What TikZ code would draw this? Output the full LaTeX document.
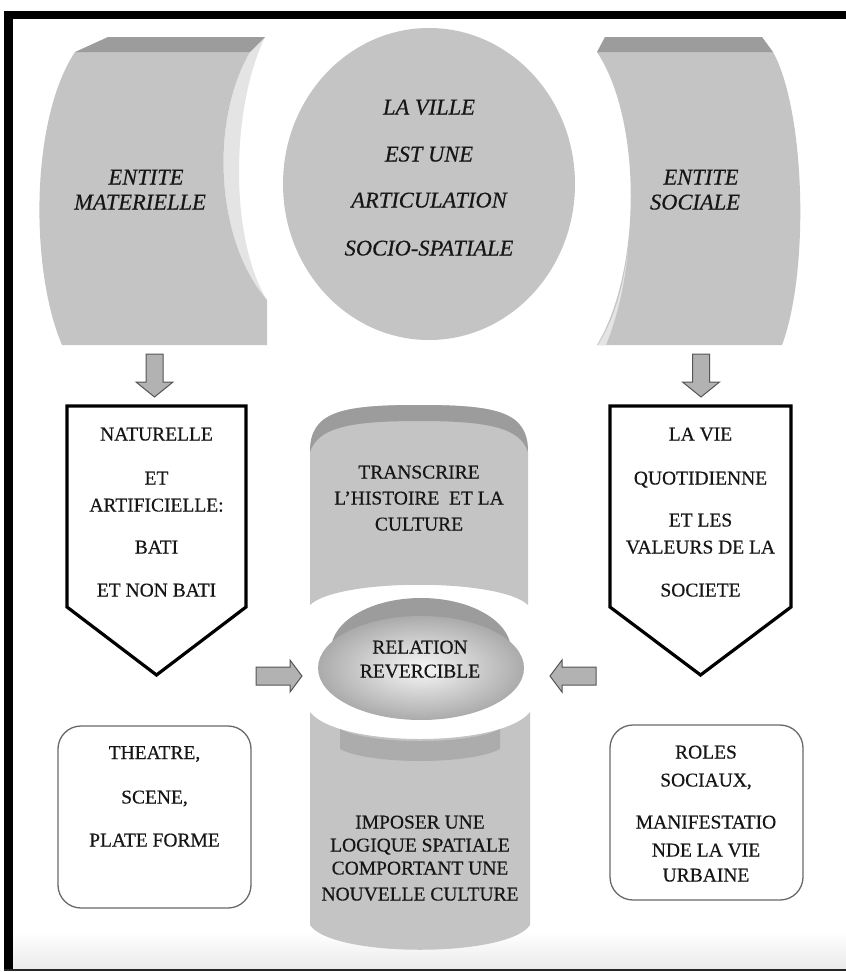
\documentclass[tikz,border=0pt]{standalone}
\usepackage{fontspec}
\setmainfont{Liberation Serif}[FakeBold=0.35]
\usetikzlibrary{shapes.geometric}
\definecolor{facegray}{RGB}{196,196,196}
\definecolor{topgray}{RGB}{156,156,156}
\definecolor{sidegray}{RGB}{228,228,228}
\definecolor{bandgray}{RGB}{172,172,172}
\definecolor{arrowfill}{RGB}{178,178,178}
\definecolor{arrowline}{RGB}{85,85,85}
\definecolor{boxline}{RGB}{105,105,105}
\definecolor{txt}{RGB}{22,22,22}
\begin{document}
\begin{tikzpicture}[x=1pt,y=-1pt,
  ttl/.style={font=\fontsize{22.5}{26}\selectfont\itshape, text=txt, inner sep=0pt, anchor=base},
  lbl/.style={font=\fontsize{19.5}{22}\selectfont, text=txt, inner sep=0pt, anchor=base},
  pent/.style={draw=black, line width=3.2pt, fill=white, line join=miter},
  blockarrow/.style={fill=arrowfill, draw=arrowline, line width=1pt, line join=miter},
  roundbox/.style={draw=boxline, line width=1.3pt, rounded corners=23pt, fill=white, inner sep=0pt}]
\useasboundingbox (0,0) rectangle (846,972);
\fill[white] (0,0) rectangle (846,972);
% bottom light band and frame
\shade[top color=white, bottom color=black!8] (12,932) rectangle (846,969);
\fill[black] (4,11) rectangle (846,18.5);
\fill[black] (4,11) rectangle (12.5,971);
\draw[line width=2.2pt, black!85] (4,970) -- (846,970);

% ---------- left curved panel ----------
\fill[sidegray] (265,37) .. controls (230,110) and (230,240) .. (267,300)
  .. controls (215,240) and (210,120) .. (250,52) -- cycle;
\fill[facegray] (75,52) .. controls (30,120) and (30,270) .. (62,345) -- (267,345) -- (267,300)
  .. controls (215,240) and (210,120) .. (250,52) -- cycle;
\fill[topgray] (108,37) -- (265,37) -- (250,52) -- (75,52) -- cycle;
\node[ttl] (ent1) at (146,184.5) {ENTITE};
\node[ttl] (mat1) at (140,209.5) {MATERIELLE};

% ---------- right curved panel ----------
\fill[facegray] (597,52) .. controls (642,120) and (642,270) .. (597,345) -- (782,345)
  .. controls (810,270) and (805,110) .. (773,52) -- cycle;
\fill[sidegray] (628,250) .. controls (622,295) and (612,322) .. (598,345) -- (606,345)
  .. controls (615,322) and (624,292) .. (628,250) -- cycle;
\fill[topgray] (605,37) -- (762,37) -- (773,52) -- (597,52) -- cycle;
\node[ttl] (ent2) at (701,184.5) {ENTITE};
\node[ttl] (soc2) at (695,209.5) {SOCIALE};

% ---------- central ellipse ----------
\node[ellipse, fill=facegray, minimum width=292pt, minimum height=312pt, inner sep=0pt] (ville) at (429,184) {};
\node[ttl] (v1) at (429,114.5) {LA VILLE};
\node[ttl] (v2) at (429,161.5) {EST UNE};
\node[ttl] (v3) at (429,207.5) {ARTICULATION};
\node[ttl] (v4) at (429,255.5) {SOCIO-SPATIALE};

% ---------- down arrows ----------
\draw[blockarrow] (146,354) -- (163,354) -- (163,382) -- (173,382) -- (154.5,397) -- (136,382) -- (146,382) -- cycle;
\draw[blockarrow] (692.5,354) -- (709.5,354) -- (709.5,382) -- (719.5,382) -- (701,397) -- (682.5,382) -- (692.5,382) -- cycle;

% ---------- pentagons ----------
\draw[pent] (67,406) -- (246,406) -- (246,607) -- (156.5,675) -- (67,607) -- cycle;
\draw[pent] (610,406) -- (791,406) -- (791,607) -- (700.5,675) -- (610,607) -- cycle;
\node[lbl] (p1) at (156.5,440.5) {NATURELLE};
\node[lbl] (p2) at (156.5,484.5) {ET};
\node[lbl] (p3) at (156.5,511.5) {ARTIFICIELLE:};
\node[lbl] (p4) at (156.5,553.5) {BATI};
\node[lbl] (p5) at (156.5,596.5) {ET NON BATI};
\node[lbl] (q1) at (700.5,440.5) {LA VIE};
\node[lbl] (q2) at (700.5,484.5) {QUOTIDIENNE};
\node[lbl] (q3) at (700.5,526.5) {ET LES};
\node[lbl] (q4) at (700.5,553.5) {VALEURS DE LA};
\node[lbl] (q5) at (700.5,596.5) {SOCIETE};

% ---------- top cylinder ----------
\fill[facegray] (310,452) .. controls (310,412) and (340,405) .. (419,405) .. controls (498,405) and (528,412) .. (528,452)
  -- (528,605) .. controls (500,578) and (338,578) .. (310,605) -- cycle;
\fill[topgray] (310,452) .. controls (310,412) and (340,405) .. (419,405) .. controls (498,405) and (528,412) .. (528,452)
  .. controls (520,428) and (490,421) .. (419,421) .. controls (348,421) and (318,428) .. (310,452) -- cycle;
\node[lbl] (t1) at (419,478.5) {TRANSCRIRE};
\node[lbl] (t2) at (419,504.5) {L’HISTOIRE\ \ ET LA};
\node[lbl] (t3) at (419,530.5) {CULTURE};

% ---------- relation disk ----------
\fill[topgray] (421,650) ellipse [x radius=90, y radius=52];
\shade[inner color=black!3, outer color=black!33] (421,668) ellipse [x radius=103, y radius=52];
\node[lbl] (r1) at (420,653.5) {RELATION};
\node[lbl] (r2) at (420,677.5) {REVERCIBLE};

% ---------- horizontal arrows ----------
\draw[blockarrow] (256,667) -- (290,667) -- (290,660) -- (302,676) -- (290,692) -- (290,685) -- (256,685) -- cycle;
\draw[blockarrow] (596,667) -- (562,667) -- (562,660) -- (550,676) -- (562,692) -- (562,685) -- (596,685) -- cycle;

% ---------- bottom cylinder ----------
\fill[facegray] (310,712) .. controls (338,748) and (502,748) .. (530,712) -- (530,925)
  .. controls (508,958) and (332,958) .. (310,925) -- cycle;
\fill[bandgray] (340,729) .. controls (370,745) and (470,745) .. (500,729) -- (500,749)
  .. controls (470,765) and (370,765) .. (340,749) -- cycle;
\node[lbl] (b1) at (420,828.5) {IMPOSER UNE};
\node[lbl] (b2) at (420,851.5) {LOGIQUE SPATIALE};
\node[lbl] (b3) at (420,874.5) {COMPORTANT UNE};
\node[lbl] (b4) at (420,900.5) {NOUVELLE CULTURE};

% ---------- rounded boxes ----------
\node[roundbox, minimum width=193pt, minimum height=182pt] (theatre) at (154.5,817) {};
\node[lbl] (s1) at (154.5,759) {THEATRE,};
\node[lbl] (s2) at (154.5,803.5) {SCENE,};
\node[lbl] (s3) at (154.5,846.5) {PLATE FORME};
\node[roundbox, minimum width=193pt, minimum height=175pt] (roles) at (706.5,812.5) {};
\node[lbl] (u1) at (706,758.5) {ROLES};
\node[lbl] (u2) at (706,786.5) {SOCIAUX,};
\node[lbl] (u3) at (706,828.5) {MANIFESTATIO};
\node[lbl] (u4) at (706,856.5) {NDE LA VIE};
\node[lbl] (u5) at (706,881.5) {URBAINE};
\end{tikzpicture}
\end{document}
